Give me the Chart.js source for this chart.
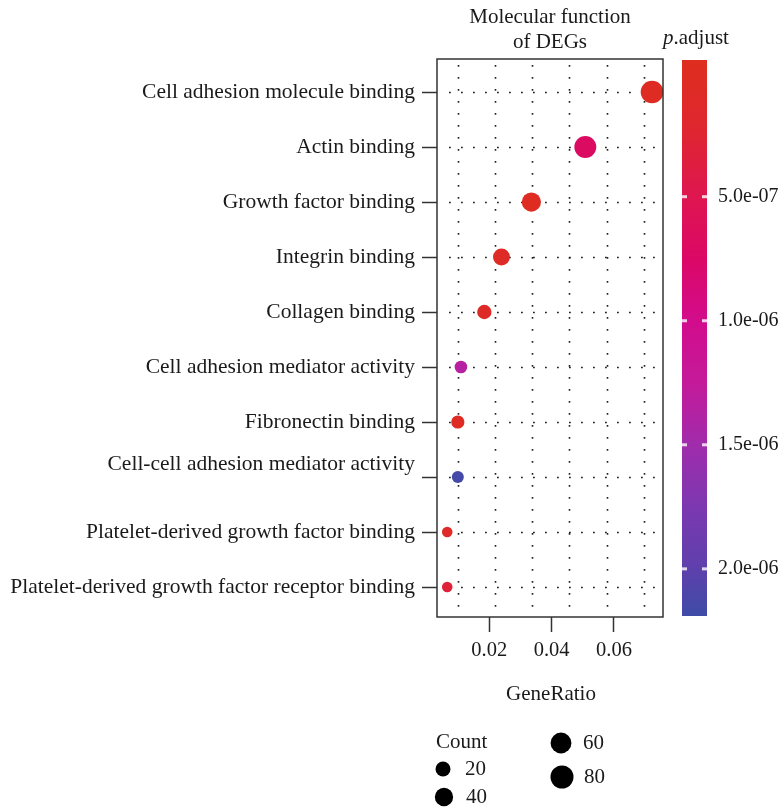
<!DOCTYPE html>
<html>
<head>
<meta charset="utf-8">
<title>Molecular function of DEGs</title>
<script src="https://cdn.jsdelivr.net/npm/chart.js@4/dist/chart.umd.min.js"></script>
<style>
  html, body { margin: 0; padding: 0; background: #fff; }
  canvas { display: block; }
</style>
</head>
<body>
<canvas id="dotplot" width="784" height="810"></canvas>
<script>
// GO terms, top to bottom
const terms = [
  'Cell adhesion molecule binding',
  'Actin binding',
  'Growth factor binding',
  'Integrin binding',
  'Collagen binding',
  'Cell adhesion mediator activity',
  'Fibronectin binding',
  'Cell-cell adhesion mediator activity',
  'Platelet-derived growth factor binding',
  'Platelet-derived growth factor receptor binding'
];
const geneRatio = [0.0722, 0.0508, 0.0335, 0.0239, 0.0184, 0.0109, 0.0099, 0.0099, 0.0065, 0.0065];
const counts = [77, 70, 47, 31, 17, 10, 12, 8, 4, 4];
const pAdjust = [5e-9, 7.0e-7, 3e-8, 6e-8, 8e-8, 1.35e-6, 4e-8, 2.15e-6, 1e-7, 3e-7];

const xTicks = [0.02, 0.04, 0.06];
const pTicks = [5e-7, 1e-6, 1.5e-6, 2e-6];
const pTickLabels = ['5.0e-07', '1.0e-06', '1.5e-06', '2.0e-06'];
const countBreaks = [20, 40, 60, 80];

// dotted background grid (does not follow the tick marks in the original)
const gridX = [0.0099, 0.0218, 0.0337, 0.0456, 0.0576, 0.0696];

const FONT = '"Liberation Serif", "DejaVu Serif", serif';
const INK = '#1a1a1a';

// colour bar: value range shown and colour stops
const cbRange = [-5.1e-8, 2.19e-6];
const cbStops = [
  [-5.1e-8, '#de2e1e'],
  [2.3e-7, '#df2630'],
  [5e-7, '#de1650'],
  [7.5e-7, '#dc0866'],
  [1.0e-6, '#d20c8c'],
  [1.25e-6, '#c41a9a'],
  [1.5e-6, '#a02cac'],
  [1.75e-6, '#7c38b0'],
  [2.0e-6, '#5e40ac'],
  [2.19e-6, '#3e4ca6']
];

function hexRgb(h) {
  return [1, 3, 5].map(i => parseInt(h.substr(i, 2), 16));
}

function pColor(p) {
  if (p <= cbStops[0][0]) return cbStops[0][1];
  for (let i = 1; i < cbStops.length; i++) {
    if (p <= cbStops[i][0]) {
      const [v0, c0] = cbStops[i - 1];
      const [v1, c1] = cbStops[i];
      const t = (p - v0) / (v1 - v0);
      const a = hexRgb(c0), b = hexRgb(c1);
      const rgb = a.map((c, k) => Math.round(c + (b[k] - c) * t));
      return `rgb(${rgb.join(',')})`;
    }
  }
  return cbStops[cbStops.length - 1][1];
}

// point radius from count (area-like scale)
function sizeFor(c) {
  return 3.5 + 0.894 * Math.sqrt(c);
}

const liftedLabel = 'Cell-cell adhesion mediator activity';

const decor = {
  id: 'decor',
  beforeDatasetsDraw(chart) {
    const { ctx, chartArea: a, scales: { x, y } } = chart;
    ctx.save();
    ctx.strokeStyle = '#222';
    ctx.lineWidth = 1.6;
    ctx.setLineDash([1.8, 10.2]);
    gridX.forEach(v => {
      const px = Math.round(x.getPixelForValue(v)) + 0.5;
      ctx.beginPath();
      ctx.moveTo(px, a.top + 6);
      ctx.lineTo(px, a.bottom);
      ctx.stroke();
    });
    terms.forEach((_, i) => {
      const py = Math.round(y.getPixelForValue(i)) + 0.5;
      ctx.beginPath();
      ctx.moveTo(a.left + 12, py);
      ctx.lineTo(a.right, py);
      ctx.stroke();
    });
    ctx.restore();
  },
  afterDraw(chart) {
    const { ctx, chartArea: a } = chart;
    ctx.save();

    // panel box
    ctx.strokeStyle = '#333';
    ctx.lineWidth = 1.5;
    ctx.strokeRect(a.left, a.top, a.right - a.left, a.bottom - a.top);

    ctx.fillStyle = INK;
    ctx.textBaseline = 'middle';

    // title
    const cx = (a.left + a.right) / 2;
    ctx.font = `21px ${FONT}`;
    ctx.textAlign = 'center';
    ctx.fillText('Molecular function', cx, 17);
    ctx.fillText('of DEGs', cx, 42);

    // axis title
    ctx.fillText('GeneRatio', cx + 1, 694);

    // colour bar
    const cbL = 682, cbW = 25, cbT = 60, cbB = 616;
    const toY = v => cbT + (v - cbRange[0]) / (cbRange[1] - cbRange[0]) * (cbB - cbT);
    const grad = ctx.createLinearGradient(0, cbT, 0, cbB);
    cbStops.forEach(([v, c]) => grad.addColorStop((toY(v) - cbT) / (cbB - cbT), c));
    ctx.fillStyle = grad;
    ctx.fillRect(cbL, cbT, cbW, cbB - cbT);

    ctx.fillStyle = 'rgba(255,255,255,0.8)';
    pTicks.forEach(v => {
      const py = toY(v);
      ctx.fillRect(cbL, py - 1.5, 5, 3);
      ctx.fillRect(cbL + cbW - 5, py - 1.5, 5, 3);
    });

    ctx.fillStyle = INK;
    ctx.textAlign = 'left';
    ctx.font = `20px ${FONT}`;
    pTicks.forEach((v, i) => ctx.fillText(pTickLabels[i], 718, toY(v)));

    // colour bar title: p.adjust with italic p
    ctx.font = `italic 21px ${FONT}`;
    ctx.fillText('p', 663, 38);
    const pw = ctx.measureText('p').width;
    ctx.font = `21px ${FONT}`;
    ctx.fillText('.adjust', 663 + pw, 38);

    // size legend
    ctx.fillText('Count', 436, 742);
    const slots = [
      [443, 769], [444, 797],
      [561, 743], [562, 777]
    ];
    countBreaks.forEach((c, i) => {
      const [lx, ly] = slots[i];
      ctx.fillStyle = '#000';
      ctx.beginPath();
      ctx.arc(lx, ly, sizeFor(c), 0, Math.PI * 2);
      ctx.fill();
      ctx.fillStyle = INK;
      ctx.fillText(String(c), lx + 22, ly);
    });

    ctx.restore();
  }
};

const ctx = document.getElementById('dotplot').getContext('2d');

new Chart(ctx, {
  type: 'scatter',
  data: {
    datasets: [{
      data: geneRatio.map((g, i) => ({ x: g, y: i })),
      pointRadius: counts.map(sizeFor),
      pointHoverRadius: counts.map(sizeFor),
      pointBackgroundColor: pAdjust.map(pColor),
      pointBorderWidth: 0
    }]
  },
  options: {
    responsive: false,
    animation: false,
    events: [],
    layout: { padding: { top: 59, right: 121, bottom: 0, left: 0 } },
    plugins: {
      legend: { display: false },
      tooltip: { enabled: false }
    },
    scales: {
      x: {
        type: 'linear',
        min: 0.00322,
        max: 0.07572,
        afterBuildTicks: s => { s.ticks = xTicks.map(v => ({ value: v })); },
        afterFit: s => { s.height = 193; },
        border: { display: false },
        grid: {
          drawOnChartArea: false,
          tickLength: 15,
          tickColor: '#333',
          tickWidth: 1.5
        },
        ticks: {
          padding: 6,
          color: INK,
          font: { family: FONT, size: 20.5 },
          callback: v => v.toFixed(2)
        }
      },
      y: {
        type: 'linear',
        reverse: true,
        min: -0.6,
        max: 9.545,
        afterBuildTicks: s => { s.ticks = terms.map((_, i) => ({ value: i })); },
        afterFit: s => { s.width = 437; },
        border: { display: false },
        grid: {
          drawOnChartArea: false,
          tickLength: 15,
          tickColor: '#333',
          tickWidth: 1.5
        },
        ticks: {
          padding: 7,
          color: INK,
          font: { family: FONT, size: 21.5, lineHeight: 1.2 },
          callback: v => {
            const name = terms[v];
            // this label sits a bit above its tick in the original
            return name === liftedLabel ? [name, ''] : name;
          }
        }
      }
    }
  },
  plugins: [decor]
});
</script>
</body>
</html>
